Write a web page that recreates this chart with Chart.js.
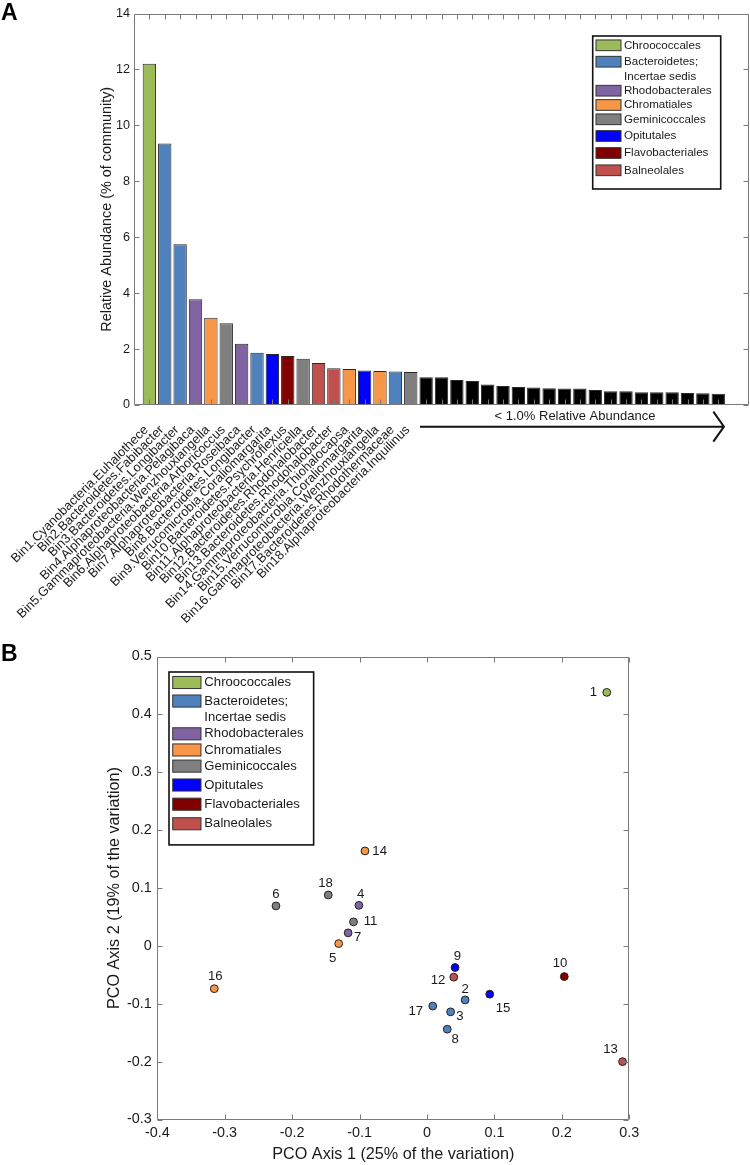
<!DOCTYPE html>
<html>
<head>
<meta charset="utf-8">
<script src="https://cdn.jsdelivr.net/npm/chart.js@4.4.1/dist/chart.umd.min.js"></script>
<style>
html,body{margin:0;padding:0;background:#fff;}
#wrap{position:relative;width:750px;height:1165px;overflow:hidden;background:#fff;}
.panel{position:absolute;left:0;}
.letter{position:absolute;font:bold 23px "Liberation Sans",Arial,Helvetica,sans-serif;line-height:1;color:#000;}
</style>
</head>
<body>
<div id="wrap">
  <div class="panel" style="top:0;width:750px;height:640px"><canvas id="chartA" width="750" height="640"></canvas></div>
  <div class="panel" style="top:640px;width:750px;height:525px"><canvas id="chartB" width="750" height="525"></canvas></div>
  <div class="letter" style="left:1px;top:1px">A</div>
  <div class="letter" style="left:1px;top:642px">B</div>
</div>
<script>
// ---------------- DATA ----------------
const orderNames = ['Chroococcales', 'Bacteroidetes;\nIncertae sedis', 'Rhodobacterales', 'Chromatiales',
                    'Geminicoccales', 'Opitutales', 'Flavobacteriales', 'Balneolales'];
const orderColors = ['#9BBB59', '#4F81BD', '#8064A2', '#F79646', '#7F7F7F', '#0000FF', '#800000', '#C0504D'];

const binLabels = [
  'Bin1.Cyanobacteria.Euhalothece',
  'Bin2.Bacteroidetes.Fabibacter',
  'Bin3.Bacteroidetes.Longibacter',
  'Bin4.Alphaproteobacteria.Pelagibaca',
  'Bin5.Gammaproteobacteria.Wenzhouxiangella',
  'Bin6.Alphaproteobacteria.Arboricoccus',
  'Bin7.Alphaproteobacteria.Roseibaca',
  'Bin8.Bacteroidetes.Longibacter',
  'Bin9.Verrucomicrobia.Coraliomargarita',
  'Bin10.Bacteroidetes.Psychroflexus',
  'Bin11.Alphaproteobacteria.Henriciella',
  'Bin12.Bacteroidetes.Rhodohalobacter',
  'Bin13.Bacteroidetes.Rhodohalobacter',
  'Bin14.Gammaproteobacteria.Thiohalocapsa',
  'Bin15.Verrucomicrobia.Coraliomargarita',
  'Bin16.Gammaproteobacteria.Wenzhouxiangella',
  'Bin17.Bacteroidetes.Rhodothermaceae',
  'Bin18.Alphaproteobacteria.Inquilinus'
];
// index into orderNames for each bin
const binOrder = [0, 1, 1, 2, 3, 4, 2, 1, 5, 6, 4, 7, 7, 3, 5, 3, 1, 4];
const binAbundance = [12.2, 9.35, 5.75, 3.78, 3.12, 2.92, 2.19, 1.87, 1.82, 1.75, 1.65, 1.50, 1.31, 1.29, 1.23, 1.22, 1.20, 1.18];
const minorAbundance = [0.99, 0.99, 0.89, 0.86, 0.73, 0.68, 0.64, 0.63, 0.60, 0.59, 0.59, 0.54, 0.49, 0.49, 0.46, 0.46, 0.46, 0.43, 0.42, 0.40];
const yTickLabelsA = ['0', '2', '4', '6', '8', '10', '12', '14'];

const pointLabels = ['1','2','3','4','5','6','7','8','9','10','11','12','13','14','15','16','17','18'];
const pcoAxis1 = [0.2666, 0.0565, 0.035, -0.101, -0.131, -0.224, -0.117, 0.030, 0.0416, 0.2036, -0.109, 0.0397, 0.290, -0.092, 0.093, -0.3155, 0.0085, -0.1465];
const pcoAxis2 = [0.438, -0.0934, -0.114, 0.070, 0.004, 0.069, 0.0225, -0.144, -0.0374, -0.053, 0.0415, -0.054, -0.200, 0.164, -0.0835, -0.074, -0.104, 0.088];
const xTickLabelsB = ['-0.4', '-0.3', '-0.2', '-0.1', '0', '0.1', '0.2', '0.3'];
const yTickLabelsB = ['-0.3', '-0.2', '-0.1', '0', '0.1', '0.2', '0.3', '0.4', '0.5'];

// ---------------- STYLE ----------------
const FONT = '"Liberation Sans", Arial, Helvetica, sans-serif';
const TEXT = '#1a1a1a';
const FRAME = '#7a7a7a';
Chart.defaults.font.family = FONT;
Chart.defaults.color = TEXT;
// label placement around points (px): [dx, dy]
const labelOffsets = [[-13.4,0],[0,-10.4],[9.3,5],[1.7,-10.7],[-6,15],[0,-11.4],[9.6,4.6],[8,10.3],[2.4,-11.6],
                      [-4.3,-13.6],[17,0],[-15.7,3],[-12,-12.3],[14.7,0],[13.3,14.3],[1,-12.7],[-17,5],[-2.7,-12]];
const legendRows = [9.3, 25.7, 40.3, 54.7, 69, 83.3, 100, 117, 134.3];

function noPad(s) { s.paddingLeft = 0; s.paddingRight = 0; s.paddingTop = 0; s.paddingBottom = 0; }

function drawLegend(ctx, x0, y0, s) {
  const W = 128 * s, H = 153 * s;
  ctx.save();
  ctx.fillStyle = '#fff';
  ctx.fillRect(x0, y0, W, H);
  ctx.lineWidth = 1.6;
  ctx.strokeStyle = '#111';
  ctx.strokeRect(x0, y0, W, H);
  ctx.font = (11.6 * s).toFixed(2) + 'px ' + FONT;
  ctx.textBaseline = 'middle';
  ctx.textAlign = 'left';
  let line = 0;
  orderNames.forEach((name, k) => {
    const parts = name.split('\n');
    const cy = y0 + legendRows[line] * s;
    const sw = 25 * s, sh = 10.7 * s;
    ctx.fillStyle = orderColors[k];
    ctx.fillRect(x0 + 3.3 * s, cy - sh / 2, sw, sh);
    ctx.lineWidth = 1;
    ctx.strokeStyle = '#333';
    ctx.strokeRect(x0 + 3.3 * s, cy - sh / 2, sw, sh);
    ctx.fillStyle = TEXT;
    parts.forEach(p => {
      ctx.fillText(p, x0 + 31.3 * s, y0 + legendRows[line] * s);
      line++;
    });
  });
  ctx.restore();
}

function frameAndTicks(chart, xVals, yVals) {
  const {ctx, chartArea: {left, right, top, bottom}} = chart;
  const L = Math.round(left) + 0.5, R = Math.round(right) - 0.5, T = Math.round(top) + 0.5, B = Math.round(bottom) - 0.5;
  const tl = 5;
  ctx.save();
  ctx.strokeStyle = FRAME;
  ctx.lineWidth = 1;
  ctx.beginPath();
  ctx.rect(L, T, R - L, B - T);
  xVals.forEach(v => {
    const px = Math.round(chart.scales.x.getPixelForValue(v)) + 0.5;
    ctx.moveTo(px, B); ctx.lineTo(px, B - tl);
    ctx.moveTo(px, T); ctx.lineTo(px, T + tl);
  });
  yVals.forEach(v => {
    const py = Math.round(chart.scales.y.getPixelForValue(v)) + 0.5;
    ctx.moveTo(L, py); ctx.lineTo(L + tl, py);
    ctx.moveTo(R, py); ctx.lineTo(R - tl, py);
  });
  ctx.stroke();
  ctx.restore();
}

// ---------------- CHART A ----------------
const catLabelsA = [''].concat(binLabels, minorAbundance.map(() => ''), ['', '']);
const valuesA = [null].concat(binAbundance, minorAbundance, [null, null]);
const colorsA = [null].concat(binOrder.map(k => orderColors[k]), minorAbundance.map(() => '#000000'), [null, null]);
const barPositionsA = binAbundance.concat(minorAbundance).map((_, i) => i + 1);

const pluginA = {
  id: 'panelA',
  afterDatasetsDraw(chart) {
    frameAndTicks(chart, barPositionsA, yTickLabelsA.map(Number));
    const ctx = chart.ctx, xs = chart.scales.x, base = chart.chartArea.bottom;
    ctx.save();
    ctx.fillStyle = TEXT;
    ctx.font = '13px ' + FONT;
    ctx.textAlign = 'center';
    ctx.textBaseline = 'middle';
    ctx.fillText('< 1.0% Relative Abundance', xs.getPixelForValue(28.68), base + 11.7);
    ctx.strokeStyle = '#111';
    ctx.lineWidth = 2;
    ctx.beginPath();
    const x1 = xs.getPixelForValue(18.6), x2 = xs.getPixelForValue(38.37), xc = xs.getPixelForValue(37.68);
    const ya = base + 21.7;
    ctx.moveTo(x1, ya); ctx.lineTo(x2, ya);
    ctx.moveTo(xc, ya - 15); ctx.lineTo(x2, ya); ctx.lineTo(xc, ya + 15);
    ctx.stroke();
    ctx.restore();
  },
  afterDraw(chart) {
    drawLegend(chart.ctx, 592.7, 36, 1);
  }
};

new Chart(document.getElementById('chartA'), {
  type: 'bar',
  data: {
    labels: catLabelsA,
    datasets: [{
      label: 'Relative Abundance',
      data: valuesA,
      backgroundColor: colorsA,
      borderColor: '#2a2a2a',
      borderWidth: 1,
      barPercentage: 0.87,
      categoryPercentage: 1
    }]
  },
  options: {
    responsive: false,
    animation: false,
    events: [],
    layout: {padding: {top: 13.5, right: 1, left: 0, bottom: 0}},
    plugins: {legend: {display: false}, tooltip: {enabled: false}},
    scales: {
      x: {
        type: 'category',
        offset: false,
        grid: {display: false, drawTicks: false},
        border: {display: false},
        ticks: {autoSkip: false, minRotation: 45, maxRotation: 45, padding: 17.5, labelOffset: -3,
                font: {size: 12.9}, color: TEXT},
        afterFit: s => { s.height = 235; noPad(s); }
      },
      y: {
        min: 0, max: 14,
        afterBuildTicks: s => { s.ticks = yTickLabelsA.map(t => ({value: Number(t)})); },
        grid: {display: false, drawTicks: false},
        border: {display: false},
        ticks: {padding: 4, font: {size: 12.6}, color: TEXT, callback: (v, i) => yTickLabelsA[i]},
        title: {display: true, text: 'Relative Abundance (% of community)', font: {size: 14.4}, color: TEXT,
                padding: {top: 98, bottom: 0}},
        afterFit: s => { s.width = 134; noPad(s); }
      }
    }
  },
  plugins: [pluginA]
});

// ---------------- CHART B ----------------
const pluginB = {
  id: 'panelB',
  afterDatasetsDraw(chart) {
    frameAndTicks(chart, xTickLabelsB.map(Number), yTickLabelsB.map(Number));
    const ctx = chart.ctx;
    const meta = chart.getDatasetMeta(0);
    ctx.save();
    ctx.fillStyle = TEXT;
    ctx.font = '13.2px ' + FONT;
    ctx.textAlign = 'center';
    ctx.textBaseline = 'middle';
    meta.data.forEach((pt, i) => {
      ctx.fillText(pointLabels[i], pt.x + labelOffsets[i][0], pt.y + labelOffsets[i][1]);
    });
    ctx.restore();
  },
  afterDraw(chart) {
    drawLegend(chart.ctx, 169, 32, 1.13);
  }
};

new Chart(document.getElementById('chartB'), {
  type: 'scatter',
  data: {
    datasets: [{
      label: 'Bins',
      data: pcoAxis1.map((x, i) => ({x: x, y: pcoAxis2[i]})),
      backgroundColor: binOrder.map(k => orderColors[k]),
      borderColor: '#222',
      borderWidth: 1,
      pointRadius: 3.9,
      pointHoverRadius: 3.9
    }]
  },
  options: {
    responsive: false,
    animation: false,
    events: [],
    layout: {padding: {top: 16.5, right: 120.7, left: 0, bottom: 0}},
    plugins: {legend: {display: false}, tooltip: {enabled: false}},
    scales: {
      x: {
        type: 'linear', min: -0.4, max: 0.3,
        afterBuildTicks: s => { s.ticks = xTickLabelsB.map(t => ({value: Number(t)})); },
        grid: {display: false, drawTicks: false},
        border: {display: false},
        ticks: {padding: 5, maxRotation: 0, autoSkip: false, font: {size: 14.4}, color: TEXT,
                callback: (v, i) => xTickLabelsB[i]},
        title: {display: true, text: 'PCO Axis 1 (25% of the variation)', font: {size: 16.2}, color: TEXT,
                padding: {top: 0, bottom: 0.5}},
        afterFit: s => { s.height = 45.5; noPad(s); }
      },
      y: {
        type: 'linear', min: -0.3, max: 0.5,
        afterBuildTicks: s => { s.ticks = yTickLabelsB.map(t => ({value: Number(t)})); },
        grid: {display: false, drawTicks: false},
        border: {display: false},
        ticks: {padding: 5.5, font: {size: 14.4}, color: TEXT, callback: (v, i) => yTickLabelsB[i]},
        title: {display: true, text: 'PCO Axis 2 (19% of the variation)', font: {size: 16.2}, color: TEXT,
                padding: {top: 105.3, bottom: 0}},
        afterFit: s => { s.width = 157.3; noPad(s); }
      }
    }
  },
  plugins: [pluginB]
});
</script>
</body>
</html>
